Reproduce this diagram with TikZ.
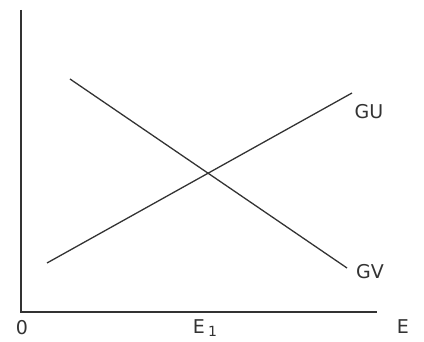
\documentclass[tikz,border=0pt]{standalone}
\usepackage{fontspec}
\setmainfont{DejaVu Sans}
\begin{document}
\begin{tikzpicture}[x=1pt,y=-1pt,
  ln/.style={line width=1.3pt,draw=black!80},
  lbl/.style={font=\fontsize{19}{19}\selectfont\fontseries{l}, text=black!80, inner sep=0pt}]
\useasboundingbox (0,0) rectangle (424,342);
\coordinate (top) at (21,10);
\coordinate (orig) at (21,312);
\coordinate (xend) at (377,312);
\draw[ln] (top) -- (orig) -- (xend);
\coordinate (gu1) at (47,263);
\coordinate (gu2) at (352,93);
\coordinate (gv1) at (70,79);
\coordinate (gv2) at (347,268);
\draw[ln] (gu1) -- (gu2);
\draw[ln] (gv1) -- (gv2);
\node[lbl] (GU) at (369,112) {GU};
\node[lbl] (GV) at (370,272) {GV};
\node[lbl] (O) at (22,328) {0};
\node[lbl] (E1) at (205,328) {E\,\raisebox{-3pt}{\fontsize{14}{14}\selectfont 1}};
\node[lbl] (E) at (403,327) {E};
\end{tikzpicture}
\end{document}
